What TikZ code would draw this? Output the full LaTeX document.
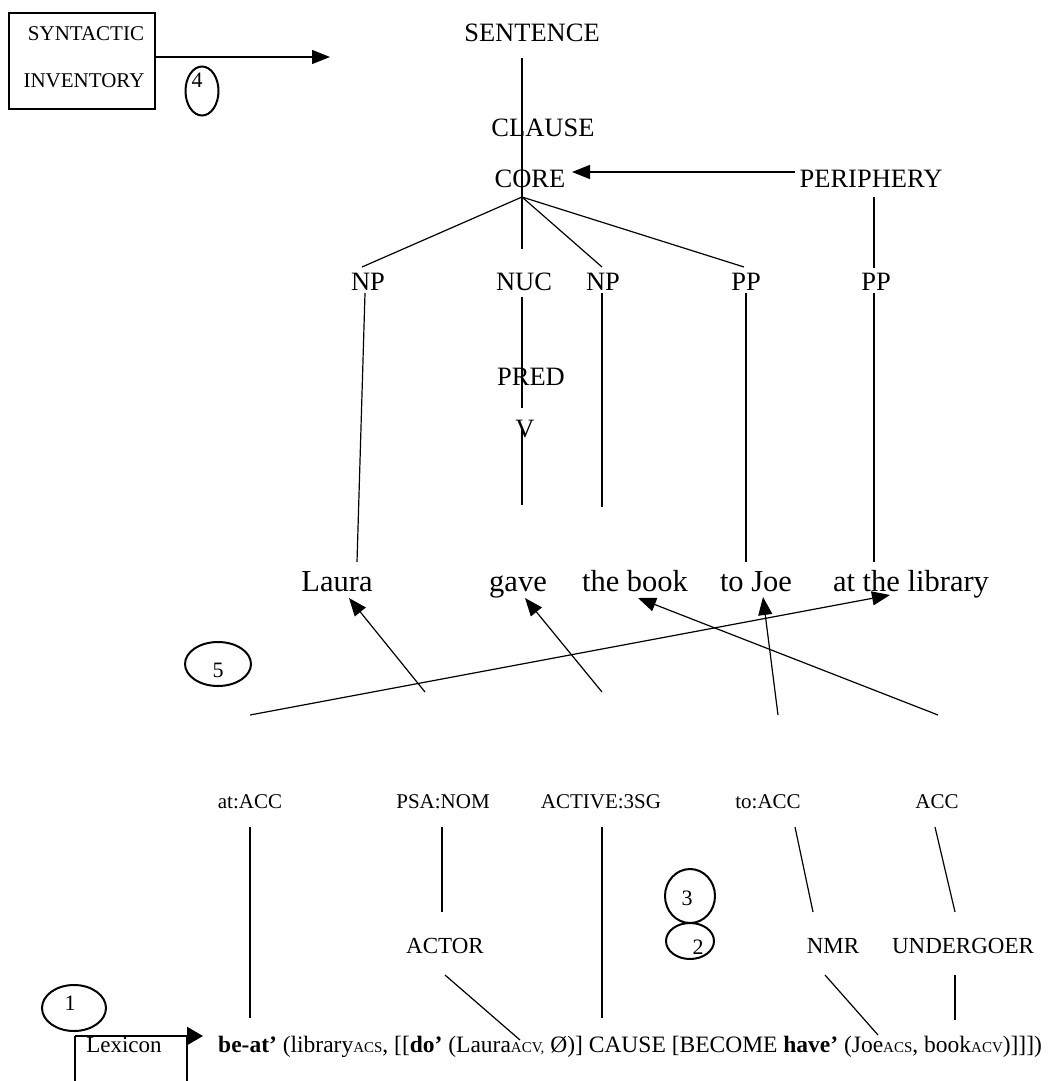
\documentclass[tikz,border=0pt]{standalone}
\usepackage{fontspec}
\setmainfont{Liberation Serif}
\usetikzlibrary{arrows.meta,shapes.geometric}
\newcommand\smallsc[1]{{\fontsize{15}{15}\selectfont #1}}
\begin{document}
\begin{tikzpicture}[x=1pt,y=-1pt,
  tree/.style={anchor=base,inner sep=0pt,font=\fontsize{26.5}{26.5}\selectfont},
  word/.style={anchor=base,inner sep=0pt,font=\fontsize{30.5}{30.5}\selectfont},
  feat/.style={anchor=base,inner sep=0pt,font=\fontsize{21}{21}\selectfont},
  role/.style={anchor=base,inner sep=0pt,font=\fontsize{23}{23}\selectfont},
  boxtext/.style={anchor=base,inner sep=0pt,font=\fontsize{21}{21}\selectfont},
  num/.style={anchor=base,inner sep=0pt,font=\fontsize{22}{22}\selectfont},
  ring/.style={draw,ellipse,line width=2pt,inner sep=0pt},
  link/.style={line width=1.2pt},
  thick box/.style={line width=2.5pt},
  tip/.style={-{Triangle[length=18pt,width=14pt]}},
]
\useasboundingbox (0,0) rectangle (1050,1081);

% ---- syntactic inventory box and its arrow
\node[draw,thick box,minimum width=146pt,minimum height=96pt,inner sep=0pt] (inv) at (82,61) {};
\node[boxtext] (syn) at (86,41) {SYNTACTIC};
\node[boxtext] (inventory) at (84,88) {INVENTORY};
\coordinate (invout) at (155,57);
\coordinate (invtip) at (330,57);
\draw[link,tip] (invout) -- (invtip);
\node[ring,minimum width=33pt,minimum height=49pt] (c4) at (202,91) {};
\node[num] (n4) at (197,88) {4};

% ---- tree
\node[tree] (sentence) at (532,42) {SENTENCE};
\node[tree] (clause) at (543,136) {CLAUSE};
\node[tree] (core) at (530,187) {CORE};
\node[tree] (periphery) at (871,187) {PERIPHERY};
\node[tree] (np1) at (368,290) {NP};
\node[tree] (nuc) at (524,290) {NUC};
\node[tree] (np2) at (603,290) {NP};
\node[tree] (pp1) at (746,290) {PP};
\node[tree] (pp2) at (876,290) {PP};
\node[tree] (pred) at (531,385) {PRED};
\node[tree] (v) at (525,437) {V};

\coordinate (sbot) at (522,58);
\coordinate (apex) at (522,197);
\coordinate (np1top) at (362,267);
\coordinate (nuctop) at (522,249);
\coordinate (np2top) at (602,267);
\coordinate (pp1top) at (744,267);
\coordinate (pertop) at (874,197);
\coordinate (pp2top) at (874,268);
\coordinate (perl) at (795,172);
\coordinate (corer) at (572,172);
\draw[link] (sbot) -- (apex);
\draw[link] (apex) -- (np1top);
\draw[link] (apex) -- (nuctop);
\draw[link] (apex) -- (np2top);
\draw[link] (apex) -- (pp1top);
\draw[link,tip] (perl) -- (corer);
\draw[link] (pertop) -- (pp2top);

\coordinate (np1bot) at (365,293);
\coordinate (np1end) at (357,562);
\coordinate (nucbot) at (522,297);
\coordinate (predend) at (522,408);
\coordinate (vtop) at (522,427);
\coordinate (vend) at (522,505);
\coordinate (np2bot) at (602,293);
\coordinate (np2end) at (602,507);
\coordinate (pp1bot) at (746,293);
\coordinate (pp1end) at (746,562);
\coordinate (pp2bot) at (874,293);
\coordinate (pp2end) at (874,562);
\draw[link] (np1bot) -- (np1end);
\draw[link] (nucbot) -- (predend);
\draw[link] (vtop) -- (vend);
\draw[link] (np2bot) -- (np2end);
\draw[link] (pp1bot) -- (pp1end);
\draw[link] (pp2bot) -- (pp2end);

% ---- the sentence
\node[word] (laura) at (337,591) {Laura};
\node[word] (gave) at (518,591) {gave};
\node[word] (book) at (635,591) {the book};
\node[word] (joe) at (756,591) {to Joe};
\node[word] (library) at (911,591) {at the library};

\coordinate (a1s) at (425,692);
\coordinate (a1t) at (349,598);
\coordinate (a2s) at (602,692);
\coordinate (a2t) at (525,598);
\coordinate (a3s) at (938,715);
\coordinate (a3t) at (638,598);
\coordinate (a4s) at (778,715);
\coordinate (a4t) at (763,597);
\coordinate (a5s) at (250,715);
\coordinate (a5t) at (890,595);
\draw[link,tip] (a1s) -- (a1t);
\draw[link,tip] (a2s) -- (a2t);
\draw[link,tip] (a3s) -- (a3t);
\draw[link,tip] (a4s) -- (a4t);
\draw[link,tip] (a5s) -- (a5t);

\node[ring,minimum width=66pt,minimum height=44pt] (c5) at (218,664) {};
\node[num] (n5) at (218,677) {5};

% ---- morphosyntactic features
\node[feat] (atacc) at (250,808) {at:ACC};
\node[feat] (psanom) at (443,808) {PSA:NOM};
\node[feat] (active) at (601,808) {ACTIVE:3SG};
\node[feat] (toacc) at (768,808) {to:ACC};
\node[feat] (acc) at (937,808) {ACC};

\node[role] (actor) at (445,953) {ACTOR};
\node[role] (nmr) at (833,953) {NMR};
\node[role] (undergoer) at (963,953) {UNDERGOER};

\coordinate (f1s) at (250,827);
\coordinate (f1e) at (250,1018);
\coordinate (f2s) at (442,827);
\coordinate (f2e) at (442,912);
\coordinate (f3s) at (602,827);
\coordinate (f3e) at (602,1018);
\coordinate (f4s) at (795,827);
\coordinate (f4e) at (813,912);
\coordinate (f5s) at (935,827);
\coordinate (f5e) at (955,912);
\draw[link] (f1s) -- (f1e);
\draw[link] (f2s) -- (f2e);
\draw[link] (f3s) -- (f3e);
\draw[link] (f4s) -- (f4e);
\draw[link] (f5s) -- (f5e);

\coordinate (r1s) at (445,975);
\coordinate (r1e) at (520,1040);
\coordinate (r2s) at (825,975);
\coordinate (r2e) at (878,1035);
\coordinate (r3s) at (955,975);
\coordinate (r3e) at (955,1020);
\draw[link] (r1s) -- (r1e);
\draw[link] (r2s) -- (r2e);
\draw[link] (r3s) -- (r3e);

\node[ring,minimum width=50pt,minimum height=54pt] (c3) at (690,896) {};
\node[num] (n3) at (687,905) {3};
\node[ring,minimum width=48pt,minimum height=36pt] (c2) at (690,941) {};
\node[num] (n2) at (698,954) {2};

% ---- lexicon
\node[ring,minimum width=64pt,minimum height=46pt] (c1) at (74,1008) {};
\node[num] (n1) at (70,1010) {1};
\coordinate (lexbl) at (75,1081);
\coordinate (lextl) at (75,1036);
\coordinate (lextip) at (203,1036);
\coordinate (lextr) at (187,1036);
\coordinate (lexbr) at (187,1081);
\draw[thick box] (lexbl) -- (lextl);
\draw[thick box,-{Triangle[length=16pt,width=18pt]}] (lextl) -- (lextip);
\draw[thick box] (lextr) -- (lexbr);
\node[boxtext,font=\fontsize{23}{23}\selectfont] (lexicon) at (124,1052) {Lexicon};

\node[anchor=base west,inner sep=0pt,font=\fontsize{23.5}{23.5}\selectfont] (lsform) at (218,1052)
  {\textbf{be-at’} (library\smallsc{ACS}, [[\textbf{do’} (Laura\smallsc{ACV,} Ø)] CAUSE [BECOME \textbf{have’} (Joe\smallsc{ACS}, book\smallsc{ACV})]]])};
\end{tikzpicture}
\end{document}
